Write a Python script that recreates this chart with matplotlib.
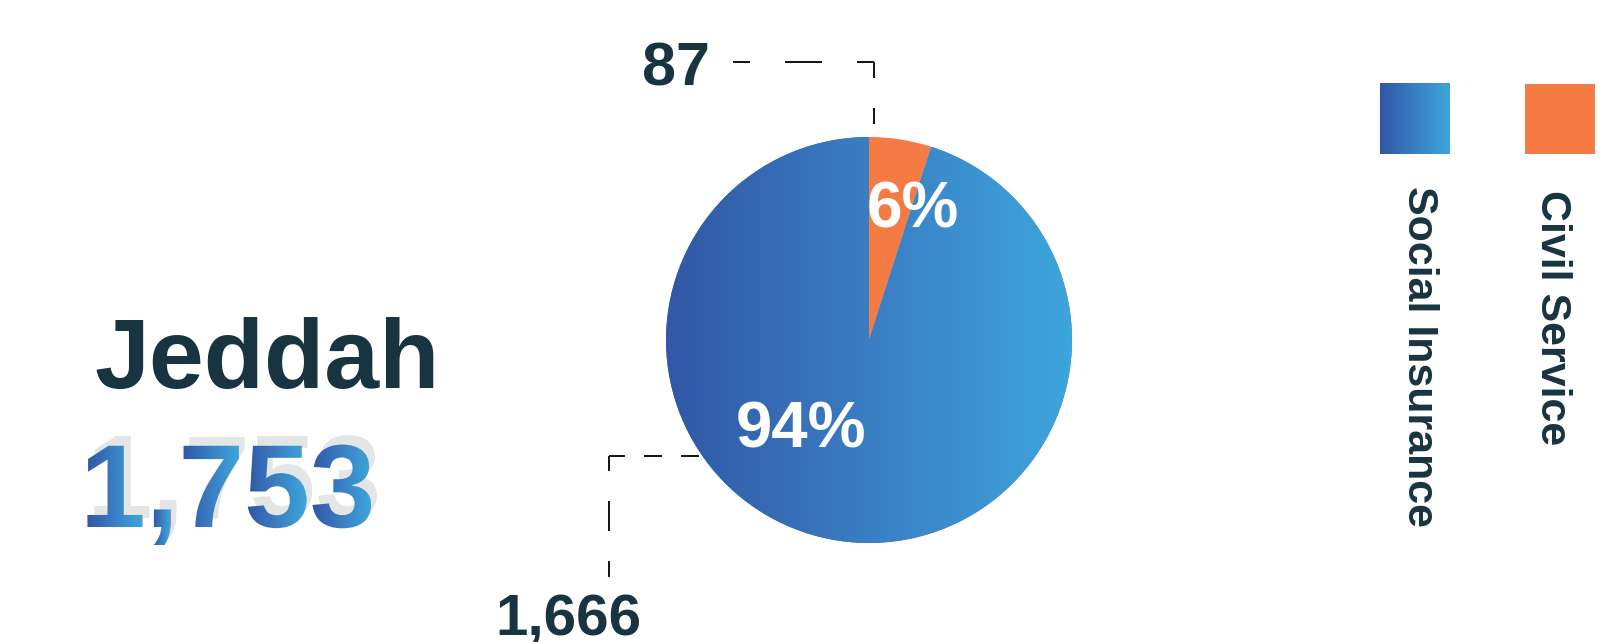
import numpy as np
import matplotlib.pyplot as plt
from matplotlib.colors import LinearSegmentedColormap
from matplotlib.font_manager import FontProperties
from matplotlib.textpath import TextPath
from matplotlib.patches import PathPatch, Rectangle

# donnees
city = "Jeddah"
total = "1,753"
categories = ["Civil Service", "Social Insurance"]
values = [87, 1666]
pct_labels = ["6%", "94%"]
value_labels = ["87", "1,666"]

W, H = 1617, 642
plt.rcParams['font.family'] = ['Liberation Sans', 'DejaVu Sans']
plt.rcParams['lines.scale_dashes'] = False

dark = '#173440'
orange = '#F47C44'
blue_cmap = LinearSegmentedColormap.from_list('bl', ['#3157A5', '#3A7EC3', '#3DA6DC'])
grad = np.linspace(0, 1, 256).reshape(1, -1)

fig = plt.figure(figsize=(W / 100, H / 100), dpi=100)
ax = fig.add_axes([0, 0, 1, 1])


def py(y):
    # coordonnee image -> coordonnee axe
    return H - y


def px2pt(v):
    return v * 0.72


# camembert
cx, cy, R = 869, py(340), 203
wedges, _ = ax.pie(values, colors=[orange, '#3A7EC3'], startangle=90, counterclock=False,
                   center=(cx, cy), radius=R, wedgeprops=dict(linewidth=0))
ax.imshow(grad, cmap=blue_cmap, extent=(cx - R, cx + R, cy - R, cy + R), aspect='auto',
          clip_path=wedges[1], zorder=wedges[1].get_zorder() + 0.1)

ax.text(867, py(228), pct_labels[0], color='white', fontsize=46, fontweight='bold',
        ha='left', va='baseline', zorder=5)
ax.text(736, py(448), pct_labels[1], color='white', fontsize=47, fontweight='bold',
        ha='left', va='baseline', zorder=5)


# lignes de rappel (pointilles)
def dashed(xs, ys, on, off, offset):
    ax.plot(xs, ys, color='black', lw=1.3, solid_capstyle='butt', dash_capstyle='butt',
            linestyle=(px2pt(offset), (px2pt(on), px2pt(off))), zorder=1)


dashed([733, 874], [py(62), py(62)], 37, 35, 20)
dashed([874, 874], [py(62), py(136)], 16, 30, 0)
dashed([609, 702], [py(456), py(456)], 18, 19, 2)
dashed([609, 609], [py(456), py(577)], 30, 30, 15)

ax.text(642, py(85), value_labels[0], color=dark, fontsize=44, fontweight='bold',
        ha='left', va='baseline')
ax.text(495, py(635), value_labels[1], color=dark, fontsize=42, fontweight='bold',
        ha='left', va='baseline')

# titre de la ville
ax.text(94, py(388), city, color=dark, fontsize=71, fontweight='bold',
        ha='left', va='baseline')

# total : ombre grise (texte) + chiffres en degrade (un degrade par glyphe)
tot_pt = 85
tx, ty = 80, py(527)
ax.text(tx + 7, ty + 9, total, color='#E4E5E5', fontsize=tot_pt, fontweight='bold',
        ha='left', va='baseline', zorder=2)
prop = FontProperties(family='Liberation Sans', weight='bold', size=tot_pt / 0.72)
tp = TextPath((tx, ty), total, prop=prop)
patch = PathPatch(tp, facecolor='none', edgecolor='none', transform=ax.transData)
ax.add_patch(patch)

spans = sorted((p[:, 0].min(), p[:, 0].max()) for p in tp.to_polygons())
merged = []
for a, b in spans:
    if merged and a <= merged[-1][1]:
        merged[-1][1] = max(merged[-1][1], b)
    else:
        merged.append([a, b])

ext = tp.get_extents()
xs = np.linspace(ext.x0, ext.x1, 1200)
tvals = np.zeros_like(xs)
for a, b in merged:
    m = (xs >= a) & (xs <= b)
    tvals[m] = (xs[m] - a) / (b - a)
ax.imshow(tvals.reshape(1, -1), cmap=blue_cmap, vmin=0, vmax=1,
          extent=(ext.x0, ext.x1, ext.y0, ext.y1), aspect='auto',
          interpolation='nearest', clip_path=patch, zorder=4)

# legende
ax.imshow(grad, cmap=blue_cmap, extent=(1380, 1450, py(154), py(83)), aspect='auto', zorder=2)
ax.add_patch(Rectangle((1525, py(154)), 70, 70, facecolor=orange, edgecolor='none'))
ax.text(1419, py(186), categories[1], color=dark, fontsize=31, fontweight='bold',
        rotation=-90, ha='center', va='top')
ax.text(1552, py(190), categories[0], color=dark, fontsize=31, fontweight='bold',
        rotation=-90, ha='center', va='top')

ax.set_xlim(0, W)
ax.set_ylim(0, H)
ax.set_aspect('auto')
ax.axis('off')

fig.savefig('out.png', dpi=100)
